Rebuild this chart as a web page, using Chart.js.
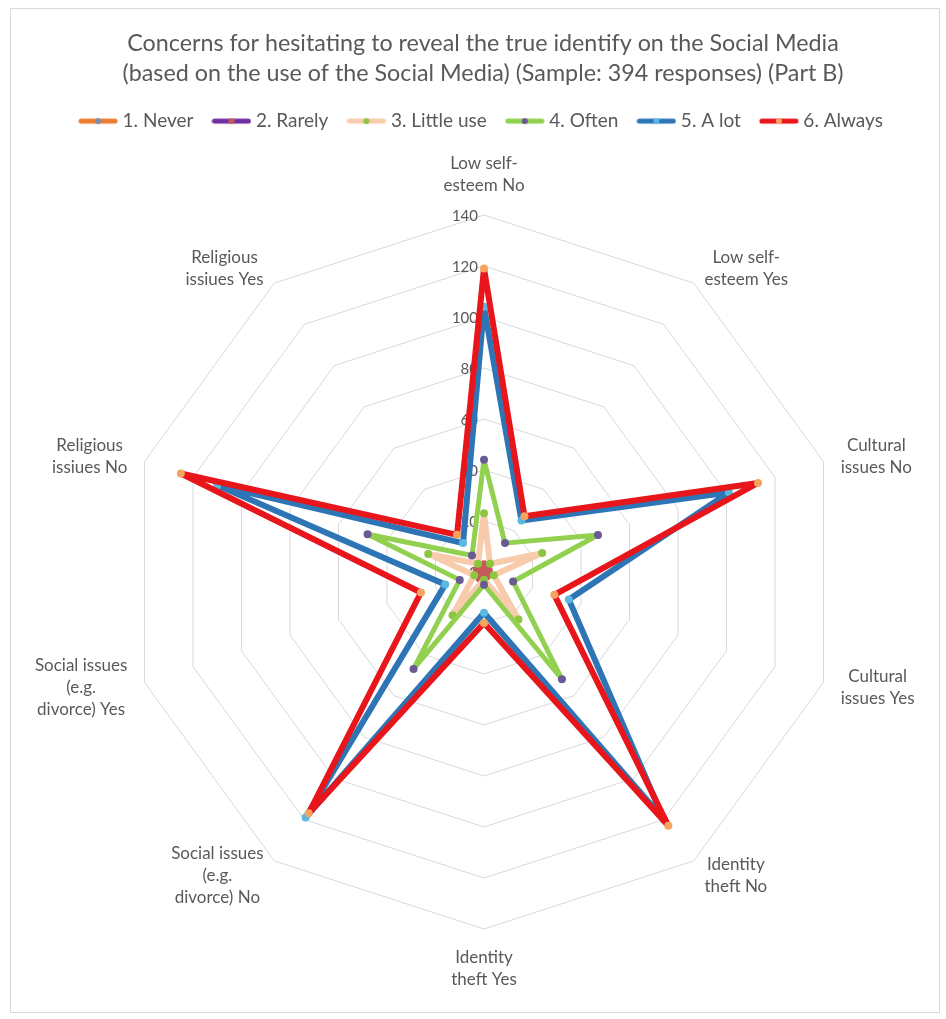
<!DOCTYPE html>
<html>
<head>
<meta charset="utf-8">
<script src="https://cdn.jsdelivr.net/npm/chart.js@4"></script>
<style>
  html, body { margin: 0; padding: 0; background: #fff; }
  #wrap { position: relative; width: 946px; height: 1019px; }
</style>
</head>
<body>
<div id="wrap"><canvas id="myChart" width="946" height="1019"></canvas></div>
<script>
// axis labels, clockwise from the top
const categories = [
  ['Low self-', 'esteem No'],
  ['Low self-', 'esteem Yes'],
  ['Cultural', 'issues No'],
  ['Cultural', 'issues Yes'],
  ['Identity', 'theft No'],
  ['Identity', 'theft Yes'],
  ['Social issues', '(e.g.', 'divorce) No'],
  ['Social issues', '(e.g.', 'divorce) Yes'],
  ['Religious', 'issiues No'],
  ['Religious', 'issiues Yes'],
];

const never = [2, 1, 1, 1, 1, 1, 1, 1, 1, 1];
const rarely = [3, 1, 2, 1, 2, 1, 3, 1, 3, 1];
const littleUse = [23, 4, 24, 4, 23, 3, 21, 4, 23, 4];
const often = [44, 14, 47, 12, 52, 5, 47, 10, 48, 8];
const aLot = [104, 25, 101, 35, 120, 16, 119, 16, 110, 14];
const always = [119, 27, 113, 29, 123, 20, 117, 26, 125, 18];

const tickValues = [0, 20, 40, 60, 80, 100, 120, 140];

const titleLines = [
  'Concerns for hesitating to reveal the true identify on the Social Media',
  '(based on the use of the Social Media) (Sample: 394 responses) (Part B)',
];

const FONT = 'Lato, "Open Sans", sans-serif';
const GREY = '#595959';

// plot placement (centre + outer radius of the radar)
const PLOT = { x: 484, y: 572, radius: 357, labelGap: 18, labelLine: 22 };

// line colour, marker colour, line width
const series = [
  { label: '1. Never', data: never, color: '#ED7D31', marker: '#7F8FA9', width: 5 },
  { label: '2. Rarely', data: rarely, color: '#7030A0', marker: '#C55A5A', width: 5 },
  { label: '3. Little use', data: littleUse, color: '#F8CBAD', marker: '#8CC63F', width: 6 },
  { label: '4. Often', data: often, color: '#92D050', marker: '#6A5A94', width: 5 },
  { label: '5. A lot', data: aLot, color: '#2E75B6', marker: '#5BB8E0', width: 6 },
  { label: '6. Always', data: always, color: '#E8151B', marker: '#F4A460', width: 6 },
];

// little line-with-dot icon for the legend
function legendIcon(color, marker) {
  const c = document.createElement('canvas');
  c.width = 40;
  c.height = 10;
  const g = c.getContext('2d');
  g.strokeStyle = color;
  g.lineWidth = 5;
  g.lineCap = 'round';
  g.beginPath();
  g.moveTo(3, 5);
  g.lineTo(37, 5);
  g.stroke();
  g.fillStyle = marker;
  g.beginPath();
  g.arc(20, 5, 3, 0, Math.PI * 2);
  g.fill();
  return c;
}
const icons = series.map((s) => legendIcon(s.color, s.marker));

const datasets = series.map((s, i) => ({
  label: s.label,
  data: s.data,
  borderColor: s.color,
  backgroundColor: 'rgba(0,0,0,0)',
  borderWidth: s.width,
  borderJoinStyle: 'round',
  pointStyle: 'circle',
  pointRadius: 4,
  pointBorderWidth: 0,
  pointBackgroundColor: s.marker,
  fill: false,
  tension: 0,
  order: series.length - i, // last series on top, like Excel
}));

// frame, tick labels left of the vertical axis, Excel-like centred point labels
const extras = {
  id: 'extras',
  beforeDraw(chart) {
    const ctx = chart.ctx;
    ctx.save();
    ctx.fillStyle = '#fff';
    ctx.fillRect(0, 0, chart.width, chart.height);
    ctx.strokeStyle = '#D9D9D9';
    ctx.lineWidth = 1;
    ctx.strokeRect(10.5, 8.5, 929, 1004);
    ctx.restore();
  },
  beforeDatasetsDraw(chart) {
    const r = chart.scales.r;
    const ctx = chart.ctx;
    ctx.save();
    ctx.font = '15px ' + FONT;
    ctx.fillStyle = GREY;
    ctx.textAlign = 'right';
    ctx.textBaseline = 'middle';
    tickValues.forEach((v) => {
      const y = r.yCenter - r.getDistanceFromCenterForValue(v);
      ctx.fillText(String(v), r.xCenter - 6, y + 1);
    });

    ctx.font = '17px ' + FONT;
    ctx.textAlign = 'center';
    categories.forEach((lines, i) => {
      const a = r.getIndexAngle(i);
      const p = r.getPointPosition(i, r.drawingArea + PLOT.labelGap);
      const w = Math.max(...lines.map((t) => ctx.measureText(t).width));
      const h = lines.length * PLOT.labelLine;
      let cx = p.x;
      let cy = p.y;
      if (Math.abs(Math.sin(a)) < 0.1) {
        cy -= Math.cos(a) * h / 2;
      } else {
        cx += Math.sign(Math.sin(a)) * w / 2;
      }
      lines.forEach((t, k) => {
        ctx.fillText(t, cx, cy - h / 2 + PLOT.labelLine * (k + 0.5));
      });
    });
    ctx.restore();
  },
};

const ctx = document.getElementById('myChart').getContext('2d');
const myChart = new Chart(ctx, {
  type: 'radar',
  data: { labels: categories, datasets: datasets },
  options: {
    responsive: false,
    animation: false,
    layout: { padding: { left: 30, right: 10, top: 0, bottom: 15 } },
    plugins: {
      title: {
        display: true,
        text: titleLines,
        color: GREY,
        font: { family: FONT, size: 23.3, weight: 'normal', lineHeight: 1.3 },
        padding: { top: 28, bottom: 0 },
      },
      legend: {
        position: 'top',
        labels: {
          usePointStyle: true,
          pointStyleWidth: 30,
          color: GREY,
          font: { family: FONT, size: 19 },
          padding: 23,
          sort: (a, b) => a.datasetIndex - b.datasetIndex,
          generateLabels(chart) {
            const items = Chart.defaults.plugins.legend.labels.generateLabels(chart);
            items.forEach((it) => { it.pointStyle = icons[it.datasetIndex]; });
            return items;
          },
        },
      },
      tooltip: { enabled: false },
    },
    scales: {
      r: {
        min: 0,
        max: 140,
        ticks: { stepSize: 20, display: false },
        grid: { color: '#D9D9D9', lineWidth: 1 },
        angleLines: { display: false },
        pointLabels: { display: false },
        afterFit(scale) {
          scale.xCenter = PLOT.x;
          scale.yCenter = PLOT.y;
          scale.drawingArea = PLOT.radius;
        },
      },
    },
  },
  plugins: [extras],
});
</script>
</body>
</html>
